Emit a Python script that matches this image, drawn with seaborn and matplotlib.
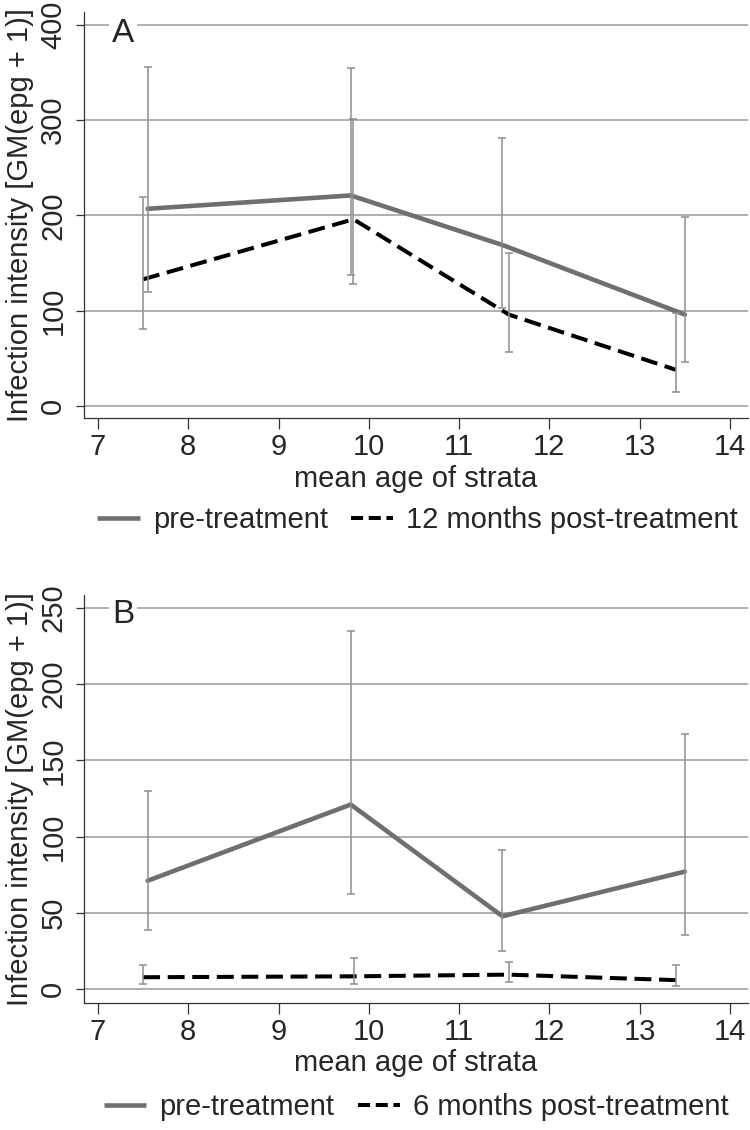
import numpy as np
import pandas as pd
import matplotlib
matplotlib.use("Agg")
import matplotlib.pyplot as plt
import seaborn as sns

# ---------------- data ----------------
# Panel A
a_pre_age = [7.55, 9.80, 11.48, 13.50]
a_pre_val = [207, 221, 169, 96]
a_pre_lo = [120, 137, 103, 46.5]
a_pre_hi = [356, 355, 281, 198]

a_post_age = [7.50, 9.83, 11.55, 13.40]
a_post_val = [133, 196, 96, 38]
a_post_lo = [81, 128, 56.5, 14.5]
a_post_hi = [219, 301, 160.5, 98]

# Panel B
b_pre_age = [7.55, 9.80, 11.48, 13.50]
b_pre_val = [71, 121, 47.7, 77]
b_pre_lo = [39, 62, 25, 35.5]
b_pre_hi = [130, 235, 91, 167.5]

b_post_age = [7.50, 9.84, 11.55, 13.40]
b_post_val = [7.7, 8.3, 9.4, 5.8]
b_post_lo = [3.0, 3.0, 4.6, 2.0]
b_post_hi = [15.7, 20.0, 17.5, 16.0]

x_ticks = [7, 8, 9, 10, 11, 12, 13, 14]
a_yticks = [0, 100, 200, 300, 400]
b_yticks = [0, 50, 100, 150, 200, 250]

xlabel = "mean age of strata"
ylabel = "Infection intensity [GM(epg + 1)]"
pre_label = "pre-treatment"
a_post_label = "12 months post-treatment"
b_post_label = "6 months post-treatment"

# ---------------- style ----------------
sns.set_style("white")
plt.rcParams["font.family"] = ["Liberation Sans", "DejaVu Sans"]
FS = 21
plt.rcParams["font.size"] = FS

PRE_COLOR = "#6f6f6f"
POST_COLOR = "#000000"
ERR_COLOR = "#8e8e8e"
GRID_COLOR = "#9a9a9a"
SPINE_COLOR = "#333333"
DASH = (0, (4.2, 1.9))

fig = plt.figure(figsize=(7.5, 11.3), dpi=100)
axA = fig.add_axes([0.112, 0.6301, 0.8853, 0.3593])
axB = fig.add_axes([0.112, 0.1124, 0.8853, 0.3611])


def draw(ax, pre, post, ylim, yticks, letter, letter_y, post_label, leg_xy, xlabel_y):
    pa, pv, plo, phi = pre
    qa, qv, qlo, qhi = post
    df_pre = pd.DataFrame({"age": pa, "val": pv})
    df_post = pd.DataFrame({"age": qa, "val": qv})

    ax.set_xlim(6.845, 14.2)
    ax.set_ylim(*ylim)
    ax.set_xticks(x_ticks)
    ax.set_yticks(yticks, labels=[str(v) for v in yticks], rotation=90,
                  ha="center", va="bottom", rotation_mode="anchor")
    ax.yaxis.grid(True, color=GRID_COLOR, lw=1.1, zorder=0)
    ax.xaxis.grid(False)
    ax.set_axisbelow(True)

    sns.lineplot(data=df_pre, x="age", y="val", ax=ax, color=PRE_COLOR, lw=3.3,
                 sort=False, errorbar=None, legend=False, zorder=2,
                 solid_capstyle="round")
    sns.lineplot(data=df_post, x="age", y="val", ax=ax, color=POST_COLOR, lw=2.9,
                 sort=False, errorbar=None, legend=False, zorder=2, linestyle=DASH)

    pv_ = np.array(pv); qv_ = np.array(qv)
    ax.errorbar(pa, pv, yerr=[pv_ - np.array(plo), np.array(phi) - pv_], fmt="none",
                ecolor=ERR_COLOR, elinewidth=1.1, capsize=3, capthick=1.1, zorder=3)
    ax.errorbar(qa, qv, yerr=[qv_ - np.array(qlo), np.array(qhi) - qv_], fmt="none",
                ecolor=ERR_COLOR, elinewidth=1.1, capsize=3, capthick=1.1, zorder=3)

    for s in ["top", "right"]:
        ax.spines[s].set_visible(False)
    for s in ["left", "bottom"]:
        ax.spines[s].set_color(SPINE_COLOR)
        ax.spines[s].set_linewidth(0.9)

    ax.tick_params(axis="x", direction="out", length=8, width=0.9, color=SPINE_COLOR,
                   pad=2.5, labelsize=FS, bottom=True)
    ax.tick_params(axis="y", direction="out", length=6, width=0.9, color=SPINE_COLOR,
                   pad=6, labelsize=FS, left=True)

    ax.set_xlabel(xlabel, fontsize=FS)
    ax.xaxis.set_label_coords(0.5, xlabel_y)
    ax.set_ylabel(ylabel, fontsize=FS)
    ax.yaxis.set_label_coords(-0.0753, 0.5)

    ax.text(7.28, letter_y, letter, fontsize=24, ha="center", va="baseline",
            bbox=dict(facecolor="white", edgecolor="none", pad=2), zorder=4)

    h_pre = plt.Line2D([], [], color=PRE_COLOR, lw=3.3, solid_capstyle="butt")
    h_post = plt.Line2D([], [], color=POST_COLOR, lw=2.9, linestyle=(0, (3.0, 1.4)))
    fig.legend([h_pre, h_post], [pre_label, post_label], loc="center",
               bbox_to_anchor=leg_xy, ncol=2, frameon=False, fontsize=FS,
               handlelength=1.45, handletextpad=0.45, columnspacing=0.8,
               borderpad=0, borderaxespad=0)


draw(axA, (a_pre_age, a_pre_val, a_pre_lo, a_pre_hi),
     (a_post_age, a_post_val, a_post_lo, a_post_hi),
     (-12.6, 413.6), a_yticks, "A", 382.5, a_post_label, (0.557, 0.540), -0.115)
draw(axB, (b_pre_age, b_pre_val, b_pre_lo, b_pre_hi),
     (b_post_age, b_post_val, b_post_lo, b_post_hi),
     (-9.2, 258.5), b_yticks, "B", 240, b_post_label, (0.555, 0.0204), -0.113)

fig.savefig("out.png", dpi=100)
